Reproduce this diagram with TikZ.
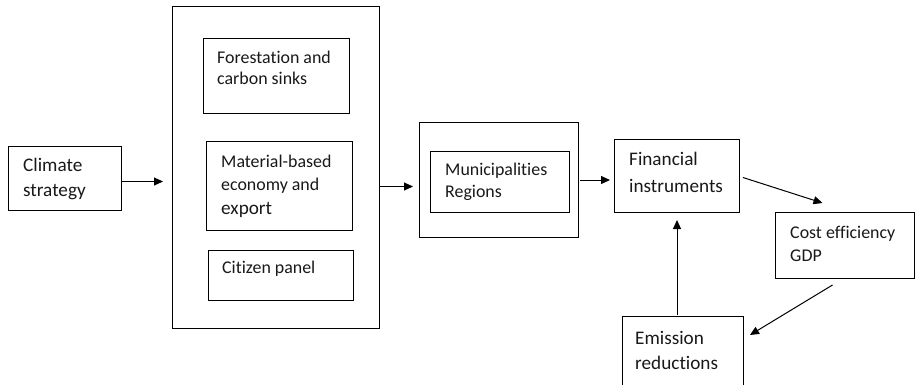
\documentclass[tikz,border=0pt]{standalone}
\usepackage{fontspec}
\setmainfont[Ligatures=NoCommon]{Carlito}
\usetikzlibrary{arrows.meta}
\newcommand{\fsS}{\fontsize{17.9}{21}\selectfont}
\newcommand{\fsL}{\fontsize{19.2}{23}\selectfont}
\tikzset{
  box/.style={draw=black, line width=1pt, inner sep=0pt, anchor=north west, fill=none},
  lblS/.style={anchor=base west, inner sep=0pt, font=\fsS, text=black!90},
  lblL/.style={anchor=base west, inner sep=0pt, font=\fsL, text=black!90},
  arr/.style={draw=black, line width=1pt, -{Triangle[length=9pt,width=8pt]}}
}
\begin{document}
\begin{tikzpicture}[x=1pt,y=-1pt]
\clip (0,0) rectangle (915,384);
\fill[white] (0,0) rectangle (915,384);
% boxes
\node[box, minimum width=113, minimum height=64] (clim) at (8,146) {};
\node[box, minimum width=207, minimum height=322] (big) at (172,6) {};
\node[box, minimum width=146, minimum height=75] (forest) at (203,38) {};
\node[box, minimum width=146, minimum height=89] (mat) at (206,141) {};
\node[box, minimum width=145, minimum height=50] (cit) at (208,250) {};
\node[box, minimum width=159, minimum height=115] (muni) at (419,122) {};
\node[box, minimum width=139, minimum height=61] (munin) at (430,151) {};
\node[box, minimum width=125, minimum height=73] (fin) at (614,139) {};
\node[box, minimum width=139, minimum height=66] (cost) at (775,212) {};
\node[box, minimum width=121, minimum height=90] (emi) at (622,316) {};
% texts
\node[lblL] (t1) at (23,171) {Climate};
\node[lblL] (t2) at (23,196) {strategy};
\node[lblS] (t3) at (217,63) {Forestation and};
\node[lblS] (t4) at (217,84) {carbon sinks};
\node[lblS] (t5) at (221,167) {Material-based};
\node[lblS] (t6) at (221,190) {economy and};
\node[lblL] (t7) at (221,214) {export};
\node[lblS] (t8) at (222,273) {Citizen panel};
\node[lblS] (t9) at (445,175) {Municipalities};
\node[lblS] (t10) at (445,197) {Regions};
\node[lblL] (t11) at (629,165) {Financial};
\node[lblL] (t12) at (629,192) {instruments};
\node[lblS] (t13) at (790,238) {Cost efficiency};
\node[lblS] (t14) at (790,261) {GDP};
\node[lblL] (t15) at (635,344) {Emission};
\node[lblL] (t16) at (635,369) {reductions};
% arrows
\draw[arr, shorten >=9pt] ([shift={(0,3)}]clim.east) -- ([shift={(0,3)}]clim.east -| big.west);
\draw[arr, shorten >=6pt] ([shift={(0,19)}]big.east) -- ([shift={(0,19)}]big.east -| muni.west);
\draw[arr, shorten >=4pt, shorten <=1pt] (muni.east) -- (muni.east -| fin.west);
\draw[arr] ([shift={(3,1.5)}]fin.east) -- ([shift={(-22.5,-9)}]cost.north);
\draw[arr] ([shift={(-12.5,6)}]cost.south) -- ([shift={(6,19)}]emi.north east);
\draw[arr, shorten >=7pt, shorten <=1pt] (emi.north -| fin.south) -- (fin.south);
\end{tikzpicture}
\end{document}
